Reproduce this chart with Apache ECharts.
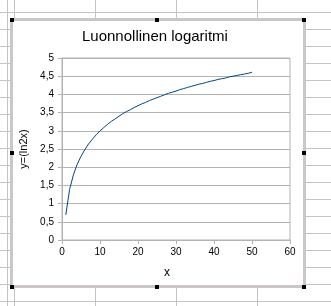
<!DOCTYPE html>
<html>
<head>
<meta charset="utf-8">
<script src="https://cdn.jsdelivr.net/npm/echarts@6/dist/echarts.min.js"></script>
<style>
  html, body { margin: 0; padding: 0; }
  body {
    width: 331px; height: 306px; overflow: hidden; position: relative;
    background-color: #fff;
    background-image:
      repeating-linear-gradient(to bottom, #c4c4c4 0px, #c4c4c4 1px, transparent 1px, transparent 17px),
      repeating-linear-gradient(to right, #c4c4c4 0px, #c4c4c4 1px, transparent 1px, transparent 81px);
    background-position: 0 12px, 14px 0;
  }
  #frame {
    position: absolute; left: 10px; top: 18px; width: 296px; height: 270px;
    box-sizing: border-box; border: 3px solid #cac6ca; background: #fff;
  }
  .h { position: absolute; width: 4px; height: 4px; background: #000; }
  #chart { position: absolute; left: 0; top: 0; width: 331px; height: 306px; }
</style>
</head>
<body>
<div id="frame"></div>
<div class="h" style="left:10px;top:18px"></div>
<div class="h" style="left:155px;top:18px"></div>
<div class="h" style="left:302px;top:18px"></div>
<div class="h" style="left:10px;top:151px"></div>
<div class="h" style="left:302px;top:151px"></div>
<div class="h" style="left:10px;top:285px"></div>
<div class="h" style="left:155px;top:285px"></div>
<div class="h" style="left:302px;top:285px"></div>
<div id="chart"></div>
<script>
const titleText = "Luonnollinen logaritmi";
const xName = "x";
const yName = "y=(ln2x)";
const xValues = [1,2,3,4,5,6,7,8,9,10,11,12,13,14,15,16,17,18,19,20,21,22,23,24,25,26,27,28,29,30,31,32,33,34,35,36,37,38,39,40,41,42,43,44,45,46,47,48,49,50];
const yValues = [0.69,1.39,1.79,2.08,2.30,2.48,2.64,2.77,2.89,3.00,3.09,3.18,3.26,3.33,3.40,3.47,3.53,3.58,3.64,3.69,3.74,3.78,3.83,3.87,3.91,3.95,3.99,4.03,4.06,4.09,4.13,4.16,4.19,4.22,4.25,4.28,4.30,4.33,4.36,4.38,4.41,4.43,4.45,4.48,4.50,4.52,4.54,4.56,4.58,4.61];

const font = "Liberation Sans, Arial, sans-serif";
const gridColor = "#b3b3b3";
const chart = echarts.init(document.getElementById("chart"), null, { renderer: "canvas" });
chart.setOption({
  backgroundColor: "transparent",
  animation: false,
  title: {
    text: titleText,
    left: 82,
    top: 29,
    padding: 0,
    textStyle: { fontFamily: font, fontSize: 15, fontWeight: "normal", color: "#000" }
  },
  grid: { left: 62, top: 58, width: 228, height: 182, show: true, borderColor: gridColor, borderWidth: 1, backgroundColor: "transparent" },
  xAxis: {
    type: "value", min: 0, max: 60, interval: 10,
    axisLine: { show: true, lineStyle: { color: gridColor, width: 1 } },
    axisTick: { show: true, inside: false, length: 4, lineStyle: { color: gridColor } },
    splitLine: { show: false },
    axisLabel: { fontFamily: font, fontSize: 10, color: "#000", margin: 7 },
    name: xName, nameLocation: "middle", nameGap: 27,
    nameTextStyle: { fontFamily: font, fontSize: 12, color: "#000", padding: [0, 18, 0, 0] }
  },
  yAxis: {
    type: "value", min: 0, max: 5, interval: 0.5,
    axisLine: { show: true, lineStyle: { color: gridColor, width: 1 } },
    axisTick: { show: true, inside: false, length: 4, lineStyle: { color: gridColor } },
    splitLine: { show: true, lineStyle: { color: gridColor, width: 1 } },
    axisLabel: { fontFamily: font, fontSize: 10, color: "#000", margin: 8,
      formatter: v => String(v).replace(".", ",") },
    name: yName, nameLocation: "middle", nameGap: 28, nameRotate: 90,
    nameTextStyle: { fontFamily: font, fontSize: 11, color: "#000" }
  },
  series: [{
    type: "line",
    data: xValues.map((x, i) => [x, yValues[i]]),
    showSymbol: false, symbol: "none",
    lineStyle: { color: "#004586", width: 1 },
    itemStyle: { color: "#004586" }
  }]
});
</script>
</body>
</html>
